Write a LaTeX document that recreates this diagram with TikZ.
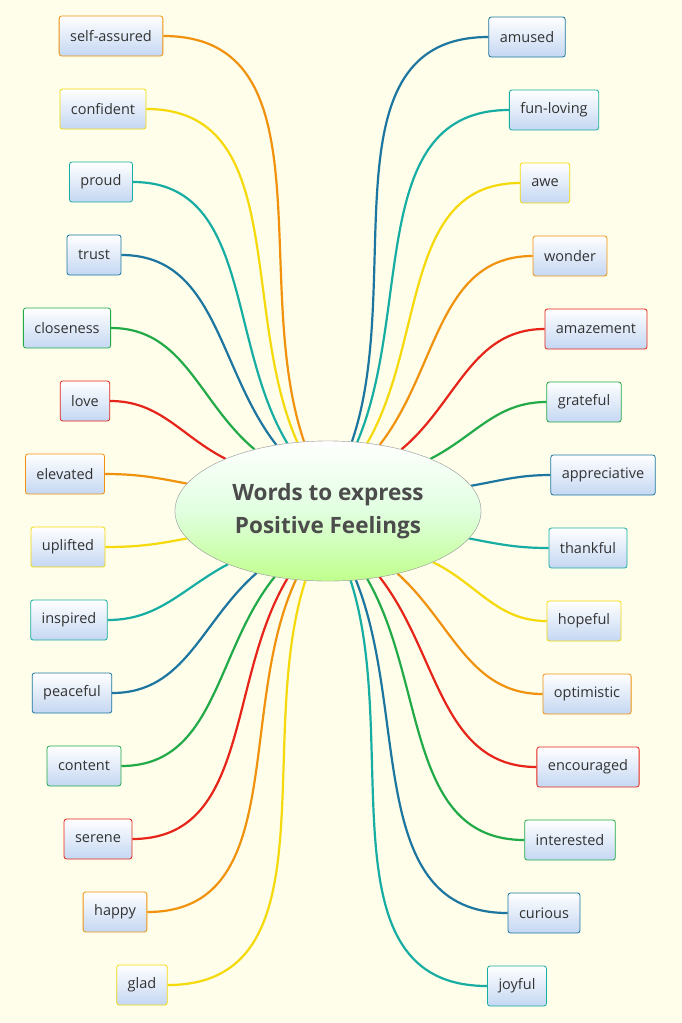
\documentclass[tikz,border=0pt]{standalone}
\usepackage{fontspec}
\setmainfont{Open Sans}
\usetikzlibrary{shapes.geometric}
\definecolor{bg}{HTML}{FEFEEA}
\definecolor{cO}{HTML}{F0920E}
\definecolor{cY}{HTML}{F5D90A}
\definecolor{cT}{HTML}{17ADA3}
\definecolor{cB}{HTML}{1C76A0}
\definecolor{cG}{HTML}{22AA48}
\definecolor{cR}{HTML}{E6241A}
\definecolor{nb}{HTML}{C4D7F2}
\begin{document}
\begin{tikzpicture}[x=1pt,y=-1pt,
  word/.style={draw=#1, rounded corners=2.5pt, top color=white, bottom color=nb,
    minimum height=40pt, inner xsep=11pt, font=\fontsize{14.5}{16}\selectfont, text=black!80, line width=0.8pt},
  link/.style={draw=#1, line width=2.2pt},
  hub/.style={ellipse, draw=black!35, top color=white, bottom color=green!40!lime!45, middle color=green!12,
  minimum width=306pt, minimum height=140pt, align=center,
  font=\fontsize{22.5}{33}\selectfont\bfseries, text=black!70}]
\fill[bg] (0,0) rectangle (682,1023);
\useasboundingbox (0,0) rectangle (682,1023);
\node[hub] (c) at (328,511) {};
\foreach \i/\x/\y/\col/\a/\t in {
  1/111/36/cO/109/self-assured, 2/103/109/cY/114/confident, 3/101/182/cT/121/proud,
  4/94/255/cB/128/trust, 5/67/328/cG/140/closeness, 6/85/401/cR/153/love,
  7/65/474/cO/169/elevated, 8/68/547/cY/191/uplifted, 9/69/620/cT/208/inspired,
  10/72/693/cB/221/peaceful, 11/84/766/cG/231/content, 12/98/839/cR/239/serene,
  13/115/912/cO/245/happy, 14/142/985/cY/252/glad}{
  \node[word=\col] (l\i) at (\x,\y) {\t};
  \path[link=\col] (l\i.east) to[out=0,in=\a] (c.\a);
}
\foreach \i/\x/\y/\col/\a/\t in {
  1/527/37/cB/71/amused, 2/554/110/cT/67/fun-loving, 3/545/183/cY/60/awe,
  4/570/256/cO/52/wonder, 5/596/329/cR/40/amazement, 6/584/402/cG/27/grateful,
  7/603/475/cB/10/appreciative, 8/588/548/cT/-11/thankful, 9/584/621/cY/-26/hopeful,
  10/587/694/cO/-42/optimistic, 11/588/767/cR/-52/encouraged, 12/570/840/cG/-60/interested,
  13/544/913/cB/-68/curious, 14/517/986/cT/-72/joyful}{
  \node[word=\col] (r\i) at (\x,\y) {\t};
  \path[link=\col] (r\i.west) to[out=180,in=\a] (c.\a);
}
\node[hub] (c2) at (328,511) {Words to express\\Positive Feelings};
\end{tikzpicture}
\end{document}
